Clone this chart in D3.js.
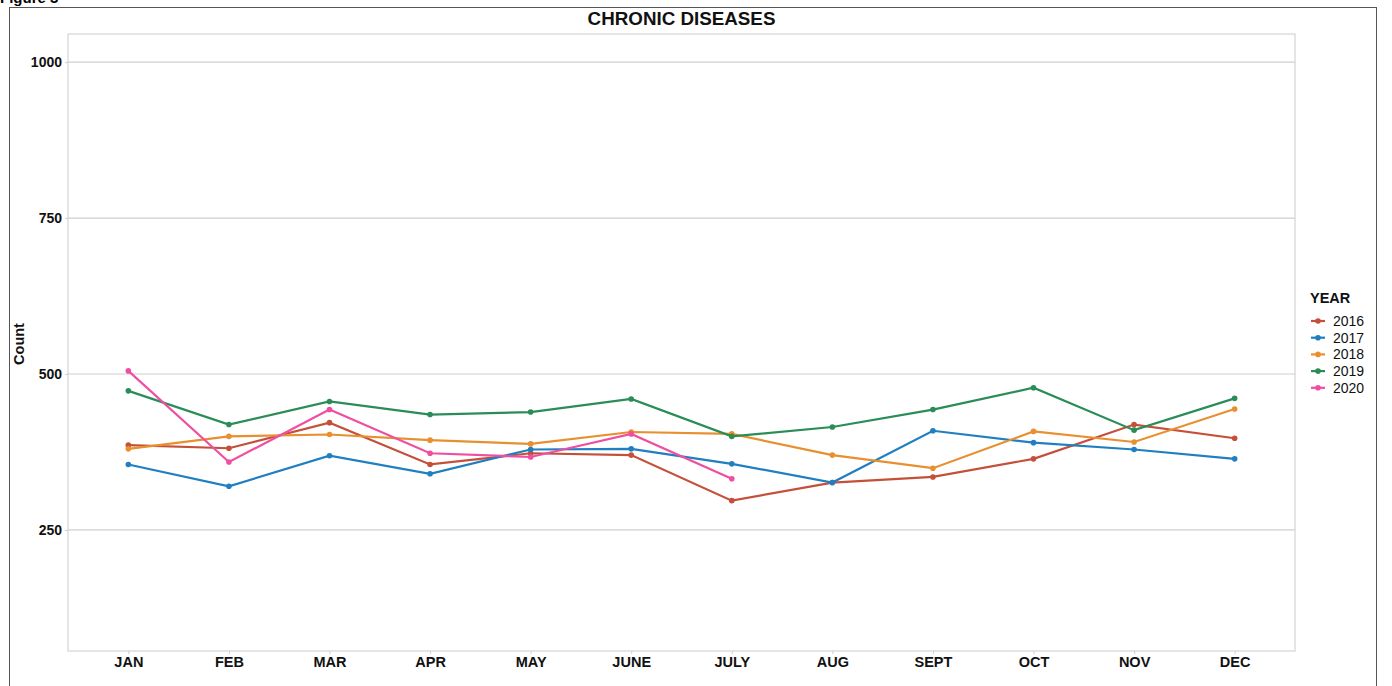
<!DOCTYPE html>
<html>
<head>
<meta charset="utf-8">
<script src="https://cdn.jsdelivr.net/npm/d3@7"></script>
<style>
  body { margin: 0; background: #fff; }
  text { font-family: "Liberation Sans", Arial, Helvetica, sans-serif; }
</style>
</head>
<body>
<div id="chart"></div>
<script>
// Daten
const months = ["JAN", "FEB", "MAR", "APR", "MAY", "JUNE", "JULY", "AUG", "SEPT", "OCT", "NOV", "DEC"]
const years = ["2016", "2017", "2018", "2019", "2020"]
const yTicks = [250, 500, 750, 1000]

const counts2016 = [386, 381, 422, 355, 373, 370, 297, 326, 335, 364, 419, 397]
const counts2017 = [355, 320, 369, 340, 379, 380, 356, 326, 409, 390, 379, 364]
const counts2018 = [380, 400, 403, 394, 388, 407, 404, 370, 349, 408, 391, 444]
const counts2019 = [473, 419, 456, 435, 439, 460, 400, 415, 443, 478, 410, 461]
const counts2020 = [505, 359, 443, 373, 367, 404, 332]

const colors = ["#c4503a", "#1f7fc0", "#e8902f", "#2a8c57", "#ef4fa0"]

const series = [counts2016, counts2017, counts2018, counts2019, counts2020].map((vals, i) => ({
  year: years[i],
  color: colors[i],
  values: vals.map((v, j) => ({ month: months[j], count: v }))
}))

const W = 1392, H = 686
const margin = { top: 34, right: 97, bottom: 35, left: 68 }
const width = W - margin.left - margin.right
const height = H - margin.top - margin.bottom

const root = d3.select("#chart").append("svg")
  .attr("width", W)
  .attr("height", H)

// abgeschnittene Bildunterschrift oben
root.append("text")
  .attr("x", 0)
  .attr("y", 3)
  .style("font-size", "15px")
  .style("font-weight", "bold")
  .text("Figure 3")

// äußerer Rahmen
root.append("rect")
  .attr("x", 9.5)
  .attr("y", 7.5)
  .attr("width", 1367)
  .attr("height", 700)
  .attr("fill", "none")
  .attr("stroke", "#555")
  .attr("stroke-width", 1)

const svg = root.append("g")
  .attr("transform", "translate(" + margin.left + "," + margin.top + ")")

// Skalen
const x = d3.scalePoint()
  .domain(months)
  .range([0, width])
  .padding(0.6)

const y = d3.scaleLinear()
  .domain([56, 1045])
  .range([height, 0])

// Gitterlinien
svg.append("g")
  .selectAll("line")
  .data(yTicks)
  .enter().append("line")
  .attr("x1", 0)
  .attr("x2", width)
  .attr("y1", d => y(d))
  .attr("y2", d => y(d))
  .attr("stroke", "#cfcfcf")
  .attr("stroke-width", 1.2)

// Panel-Rahmen
svg.append("rect")
  .attr("width", width)
  .attr("height", height)
  .attr("fill", "none")
  .attr("stroke", "#d4d4d4")
  .attr("stroke-width", 1.2)

// Achsen
const xAxis = d3.axisBottom(x).tickSize(3).tickPadding(3)
const yAxis = d3.axisLeft(y).tickValues(yTicks).tickFormat(d3.format("d")).tickSize(3).tickPadding(3)

svg.append("g")
  .attr("class", "x axis")
  .attr("transform", "translate(0," + height + ")")
  .call(xAxis)
  .call(g => g.select(".domain").remove())
  .call(g => g.selectAll("line").attr("stroke", "#cfcfcf"))
  .call(g => g.selectAll("text")
    .style("font-size", "14.5px")
    .style("font-weight", "bold")
    .style("font-family", "Liberation Sans, Arial, sans-serif")
    .attr("fill", "#111"))

svg.append("g")
  .attr("class", "y axis")
  .call(yAxis)
  .call(g => g.select(".domain").remove())
  .call(g => g.selectAll("line").attr("stroke", "#cfcfcf"))
  .call(g => g.selectAll("text")
    .style("font-size", "14px")
    .style("font-weight", "bold")
    .style("font-family", "Liberation Sans, Arial, sans-serif")
    .attr("fill", "#111"))

// Linien und Punkte
const line = d3.line()
  .x(d => x(d.month))
  .y(d => y(d.count))

const groups = svg.selectAll(".series")
  .data(series)
  .enter().append("g")
  .attr("class", "series")

groups.append("path")
  .attr("d", d => line(d.values))
  .attr("fill", "none")
  .attr("stroke", d => d.color)
  .attr("stroke-width", 2.2)

groups.selectAll("circle")
  .data(d => d.values.map(v => ({ ...v, color: d.color })))
  .enter().append("circle")
  .attr("cx", d => x(d.month))
  .attr("cy", d => y(d.count))
  .attr("r", 2.8)
  .attr("fill", d => d.color)

// Titel
root.append("text")
  .attr("x", margin.left + width / 2)
  .attr("y", 25)
  .attr("text-anchor", "middle")
  .style("font-size", "18.8px")
  .style("font-weight", "bold")
  .attr("fill", "#111")
  .text("CHRONIC DISEASES")

// y-Achsentitel
root.append("text")
  .attr("transform", "translate(24," + (margin.top + y(500) - 30) + ") rotate(-90)")
  .attr("text-anchor", "middle")
  .style("font-size", "14.5px")
  .style("font-weight", "bold")
  .attr("fill", "#111")
  .text("Count")

// Legende
const legend = root.append("g")
  .attr("transform", "translate(1310,298)")

legend.append("text")
  .attr("x", 0)
  .attr("y", 5)
  .style("font-size", "14.5px")
  .style("font-weight", "bold")
  .attr("fill", "#111")
  .text("YEAR")

const items = legend.selectAll(".item")
  .data(series)
  .enter().append("g")
  .attr("class", "item")
  .attr("transform", (d, i) => "translate(0," + (23 + i * 16.7) + ")")

items.append("line")
  .attr("x1", 1)
  .attr("x2", 15)
  .attr("stroke", d => d.color)
  .attr("stroke-width", 2.2)

items.append("circle")
  .attr("cx", 8)
  .attr("r", 2.8)
  .attr("fill", d => d.color)

items.append("text")
  .attr("x", 23)
  .attr("y", 5)
  .style("font-size", "14px")
  .attr("fill", "#111")
  .text(d => d.year)
</script>
</body>
</html>
